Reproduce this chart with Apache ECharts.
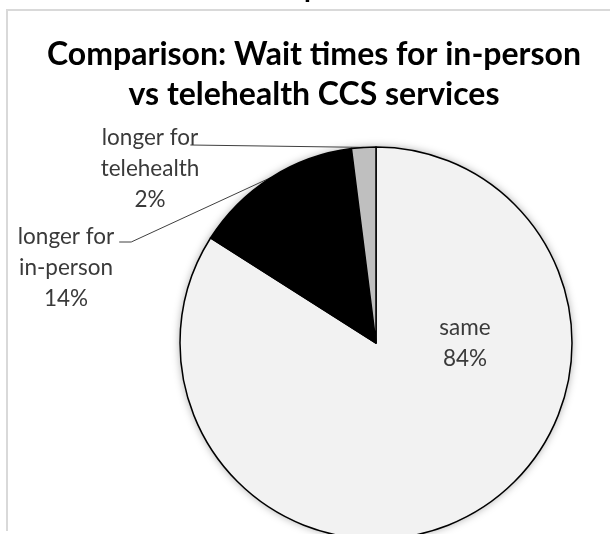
<!DOCTYPE html>
<html>
<head>
<meta charset="utf-8">
<script src="https://cdn.jsdelivr.net/npm/echarts@6/dist/echarts.min.js"></script>
<style>
  html, body { margin: 0; padding: 0; background: #fff; }
  #chart { width: 610px; height: 534px; }
</style>
</head>
<body>
<div id="chart"></div>
<script>
// Survey answers: how wait times compare between in-person and telehealth visits
const categories = ['same', 'longer for in-person', 'longer for telehealth'];
const shares = [84, 14, 2];
const sliceColors = ['#f2f2f2', '#000000', '#bfbfbf'];

const titleText = 'Comparison: Wait times for in-person\nvs telehealth CCS services';
const FONT = 'Lato, "Open Sans", sans-serif';
const LABEL_COLOR = '#3a3a3a';

const chart = echarts.init(document.getElementById('chart'), null, { renderer: 'canvas' });

const CX = 376, CY = 343, R = 196;

// where each label block sits (centre of the text block)
const labelSpots = [
  { x: 465, y: 343 },
  { x: 66, y: 268 },
  { x: 150, y: 169 }
];

const total = shares.reduce((a, b) => a + b, 0);

chart.setOption({
  animation: false,
  backgroundColor: '#ffffff',
  title: {
    text: titleText,
    left: 309,
    top: 30,
    textAlign: 'center',
    textStyle: {
      fontFamily: FONT,
      fontWeight: 'bold',
      fontSize: 32,
      lineHeight: 40,
      color: '#000000'
    }
  },
  graphic: [
    {
      type: 'polyline',
      silent: true,
      shape: { points: [[7, 531], [7, 10], [640, 10]] },
      style: { stroke: '#d9d9d9', lineWidth: 2, fill: null }
    },
    {
      // tail of a heading that sits just above the frame
      type: 'text',
      silent: true,
      left: 304,
      top: -26,
      style: { text: 'p', font: 'bold 28px ' + FONT, fill: '#000' }
    }
  ],
  series: [
    {
      // soft drop shadow behind the whole disc
      type: 'pie',
      silent: true,
      z: 1,
      center: [CX, CY],
      radius: R,
      label: { show: false },
      labelLine: { show: false },
      itemStyle: {
        color: '#ffffff',
        shadowBlur: 9,
        shadowColor: 'rgba(0,0,0,0.35)'
      },
      data: [{ value: total, name: 'all' }]
    },
    {
      type: 'pie',
      z: 2,
      center: [CX, CY],
      radius: R,
      startAngle: 90,
      clockwise: true,
      avoidLabelOverlap: false,
      itemStyle: { borderColor: '#000000', borderWidth: 1.5 },
      label: {
        show: true,
        position: 'outside',
        fontFamily: FONT,
        fontSize: 22.5,
        lineHeight: 31,
        color: LABEL_COLOR,
        align: 'center',
        formatter: p => p.name.replace('longer for ', 'longer for\n') + '\n' + p.percent.toFixed(0) + '%'
      },
      labelLine: {
        show: true,
        length: 10,
        length2: 10,
        lineStyle: { color: '#404040', width: 1 }
      },
      labelLayout: function (params) {
        const i = params.dataIndex;
        const spot = labelSpots[i];
        const w = params.labelRect.width;
        const h = params.labelRect.height;
        const out = { x: spot.x, y: spot.y, align: 'center', verticalAlign: 'middle' };
        const pts = params.labelLinePoints;
        if (pts && i > 0) {
          const edge = pts[0];
          const right = spot.x + w / 2;
          const firstLineY = spot.y - h / 2 + 15.5;
          if (i === 1) {
            out.labelLinePoints = [[right + 5, firstLineY + 5], [right + 17, firstLineY + 5], edge];
          } else {
            out.labelLinePoints = [[right - 9, firstLineY + 7], [right - 9, firstLineY + 7], edge];
          }
        }
        return out;
      },
      data: categories.map((name, i) => ({
        name: name,
        value: shares[i],
        itemStyle: { color: sliceColors[i] },
        labelLine: { show: i > 0 }
      }))
    }
  ]
});
</script>
</body>
</html>
